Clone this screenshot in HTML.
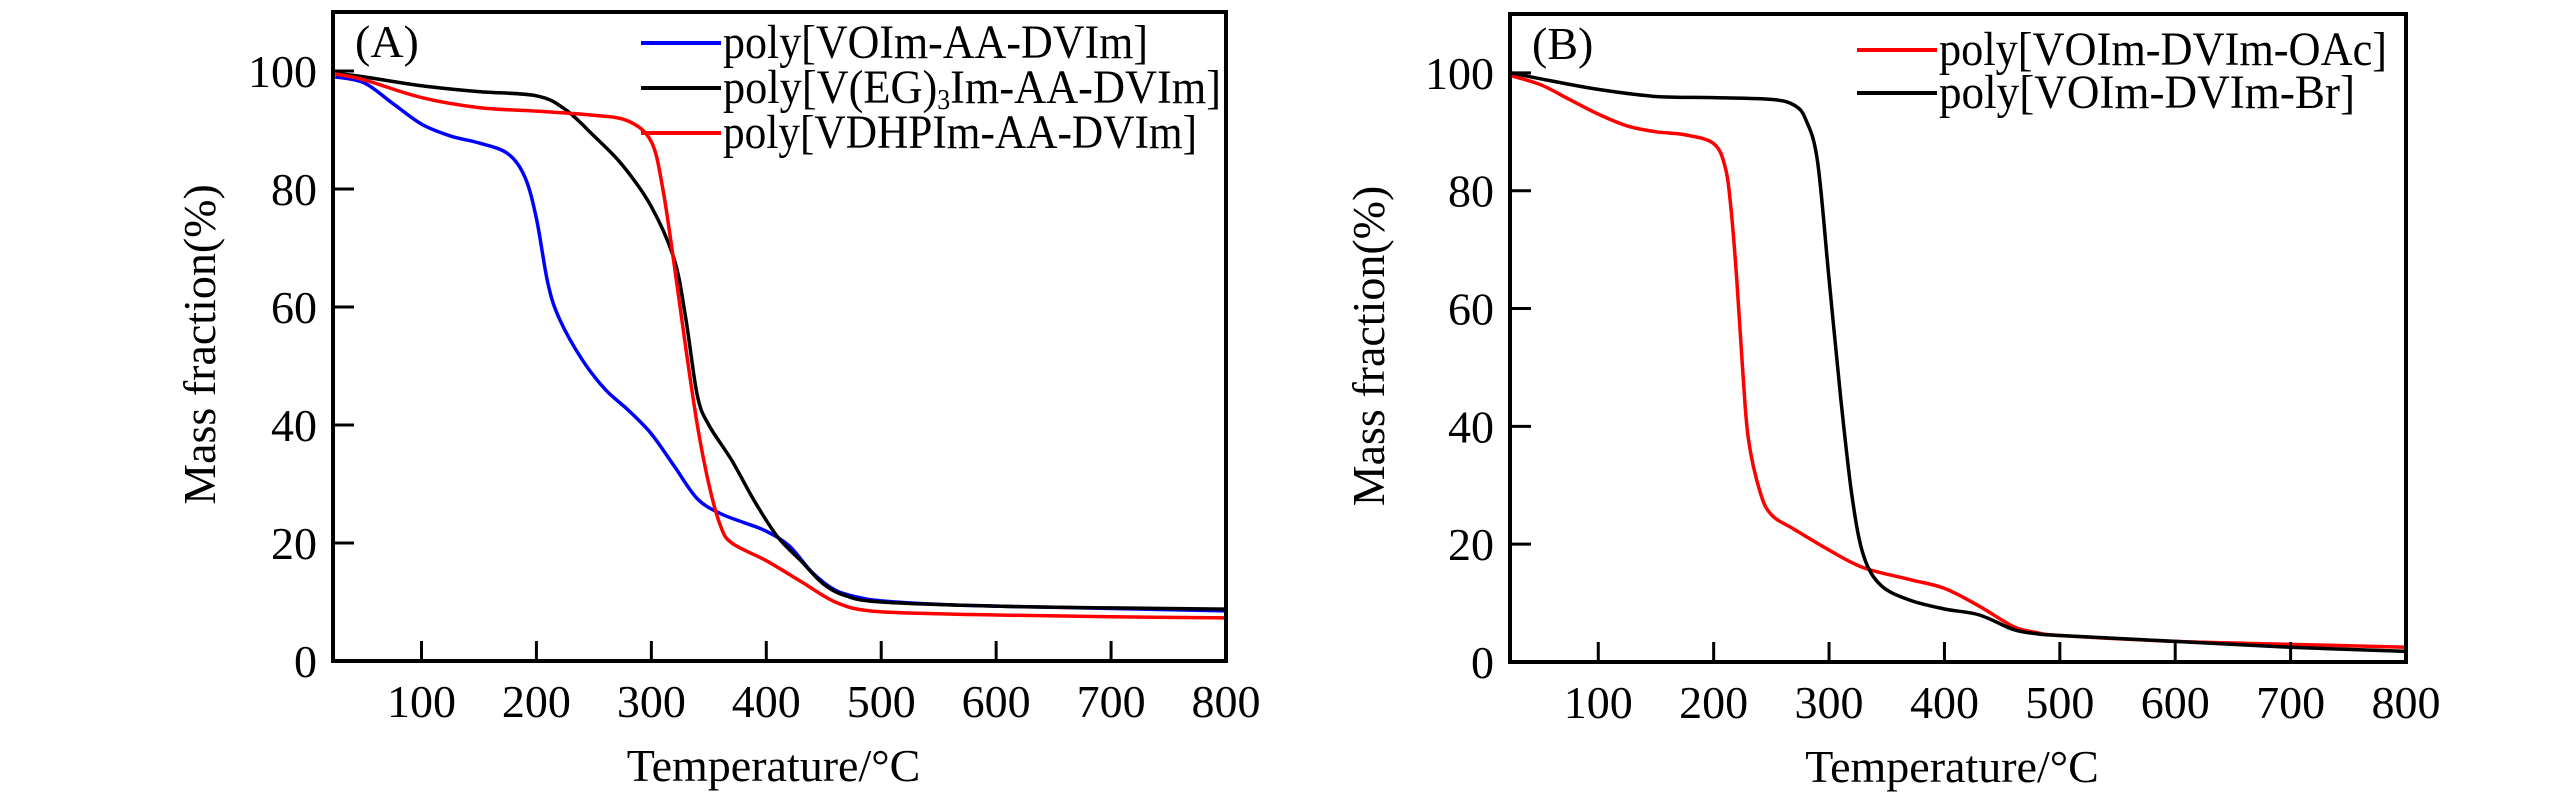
<!DOCTYPE html>
<html><head><meta charset="utf-8"><style>
html,body{margin:0;padding:0;background:#fff;}
svg{display:block;font-family:"Liberation Serif","DejaVu Serif",serif;}
</style></head><body>
<svg id="chart" width="2567" height="795" viewBox="0 0 2567 795" xmlns="http://www.w3.org/2000/svg"></svg>
<script>
const xTicks = [100,200,300,400,500,600,700,800];
const yTicks = [0,20,40,60,80,100];
// Panel A
const aBlueX = [25,50,75,100,125,150,175,190,200,210,220,240,260,280,300,320,340,360,380,400,420,440,460,480,500,550,600,700,800];
const aBlueY = [99,98,94.5,91,89,87.8,86,82,75,64,58,51,46,42.5,38.5,33,27.5,25,23.5,22,19.5,15,12,10.8,10.2,9.6,9.3,8.9,8.5];
const aBlackX = [25,50,100,150,200,225,250,275,300,320,330,340,350,370,390,410,430,450,470,500,600,700,800];
const aBlackY = [99.6,99,97.5,96.5,95.8,93.5,89,84,77,68,58,45,40,34,27,21,17,13,11,10,9.3,9,8.8];
const aRedX = [25,50,100,150,200,250,280,300,310,320,330,340,350,360,370,400,430,460,490,550,600,700,800];
const aRedY = [99.5,98.5,95.5,93.8,93.2,92.5,91.5,88,80,67,53,40,30,23,20,17,13.5,10,8.5,8,7.8,7.5,7.3];
// Panel B
const bRedX = [25,50,75,100,125,150,175,200,210,215,220,225,230,240,250,270,300,330,370,400,430,460,480,500,600,700,800];
const bRedY = [99.5,98,95.5,93,91,90,89.5,88,84,77,65,50,38,29,25,22.5,19,16,14,12.5,9.5,6,5,4.5,3.5,3,2.5];
const bBlackX = [25,50,100,150,200,250,270,280,290,300,310,320,330,345,370,400,430,460,480,500,600,700,800];
const bBlackY = [100,99,97.2,96,95.8,95.5,94.5,92,85,65,45,28,18,13,10.5,9,8,5.5,4.8,4.5,3.5,2.5,1.8];

const NS='http://www.w3.org/2000/svg';
const svg=document.getElementById('chart');
function el(tag,attrs,parent,text){const e=document.createElementNS(NS,tag);for(const k in attrs)e.setAttribute(k,attrs[k]);if(text!==undefined)e.textContent=text;(parent||svg).appendChild(e);return e;}

function panel(p){
  const g=el('g',{});
  
  
  const xs=v=>p.L+(v-p.xmin)/(p.xmax-p.xmin)*(p.R-p.L);
  const ys=v=>p.B-(v-0)/(110)*(p.B-p.T);
  p.series.forEach(s=>{
    const pts=s.x.map((v,i)=>[xs(v),ys(s.y[i])]);
    let d='M'+pts[0][0]+','+pts[0][1];
    for(let i=0;i<pts.length-1;i++){
      const p0=pts[Math.max(0,i-1)],p1=pts[i],p2=pts[i+1],p3=pts[Math.min(pts.length-1,i+2)];
      const c1x=p1[0]+(p2[0]-p0[0])/6,c1y=p1[1]+(p2[1]-p0[1])/6;
      const c2x=p2[0]-(p3[0]-p1[0])/6,c2y=p2[1]-(p3[1]-p1[1])/6;
      d+=` C${c1x},${c1y} ${c2x},${c2y} ${p2[0]},${p2[1]}`;
    }
    const path=el('path',{d:d,fill:'none',stroke:s.color,'stroke-width':3.5,'stroke-linejoin':'round'},g);
    
    
  });
  xTicks.forEach(t=>{
    const x=xs(t);
    const tk=el('line',{x1:x,x2:x,y1:p.B,y2:p.B-20,stroke:'#000','stroke-width':3},g);
    
    
    const lb=el('text',{x:x,y:p.B+56,'font-size':46,'text-anchor':'middle'},g,String(t));
    
    
  });
  yTicks.forEach(t=>{
    const y=ys(t);
    if(t>0){
      const tk=el('line',{x1:p.L,x2:p.L+21,y1:y,y2:y,stroke:'#000','stroke-width':3},g);
      
      
    }
    const lb=el('text',{x:p.L-16,y:y+16,'font-size':46,'text-anchor':'end'},g,String(t));
    
    
  });
  const box=el('rect',{x:p.L,y:p.T,width:p.R-p.L,height:p.B-p.T,fill:'none',stroke:'#000','stroke-width':4},g);
  
  
  const xt=el('text',{x:(p.L+p.R)/2-6,y:p.B+120,'font-size':46,'text-anchor':'middle'},g,'Temperature/°C');
  
  
  const yt=el('text',{x:0,y:0,'font-size':46,'text-anchor':'middle',transform:`translate(${p.yLabelX},${(p.T+p.B)/2+8}) rotate(-90)`},g,'Mass fraction(%)');
  
  
  const pl=el('text',{x:p.L+22,y:p.T+45,'font-size':46},g,p.label);
  
  
  p.series.forEach((s,i)=>{
    const y=p.legY+i*p.legDy;
    const ln=el('line',{x1:p.legX,x2:p.legX+80,y1:y,y2:y,stroke:s.color,'stroke-width':4},g);
    
    
    const tx=el('text',{x:p.legX+82,y:y+15,'font-size':48,textLength:s.w,lengthAdjust:'spacingAndGlyphs'},g);
    
    
    if(s.sub){
      el('tspan',{},tx,s.pre);
      el('tspan',{'font-size':28,dy:6},tx,s.sub);
      el('tspan',{dy:-6},tx,s.post);
    } else tx.textContent=s.label;
  });
}

panel({name:'panel-a',L:333,R:1226,T:12,B:661,xmin:23,xmax:800,yLabelX:215,label:'(A)',legX:641,legY:43,legDy:45,
  series:[
    {id:'series-voim-aa-dvim',x:aBlueX,y:aBlueY,color:'#0000ff',label:'poly[VOIm-AA-DVIm]',w:425},
    {id:'series-veg3im-aa-dvim',x:aBlackX,y:aBlackY,color:'#000000',pre:'poly[V(EG)',sub:'3',post:'Im-AA-DVIm]',w:498},
    {id:'series-vdhpim-aa-dvim',x:aRedX,y:aRedY,color:'#ff0000',label:'poly[VDHPIm-AA-DVIm]',w:474}
  ]});
panel({name:'panel-b',L:1510,R:2406,T:14,B:662,xmin:23.5,xmax:800,yLabelX:1384,label:'(B)',legX:1857,legY:50,legDy:43,
  series:[
    {id:'series-voim-dvim-oac',x:bRedX,y:bRedY,color:'#ff0000',label:'poly[VOIm-DVIm-OAc]',w:448},
    {id:'series-voim-dvim-br',x:bBlackX,y:bBlackY,color:'#000000',label:'poly[VOIm-DVIm-Br]',w:416}
  ]});
</script>
</body></html>
